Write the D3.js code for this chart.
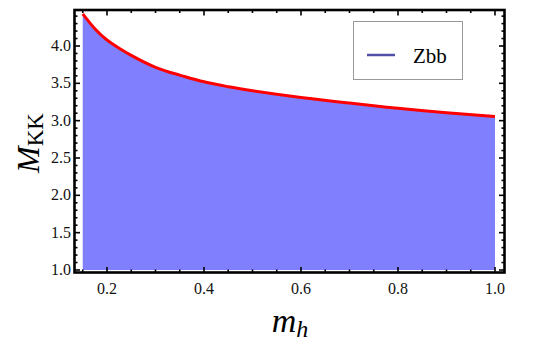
<!DOCTYPE html>
<html>
<head>
<meta charset="utf-8">
<script src="https://cdn.jsdelivr.net/npm/d3@7"></script>
<style>
  html, body { margin: 0; padding: 0; background: #fff; }
  svg { display: block; }
</style>
</head>
<body>
<svg id="chart" width="544" height="349"></svg>
<script>
// ---- data ----
const mh = [0.15, 0.175, 0.2, 0.225, 0.25, 0.3, 0.35, 0.4, 0.45, 0.5, 0.6, 0.7, 0.8, 0.9, 1.0];
const mkk = [4.43, 4.23, 4.08, 3.97, 3.875, 3.715, 3.61, 3.52, 3.455, 3.40, 3.31, 3.235, 3.165, 3.105, 3.055];
const fillBase = 1.0;
const seriesName = "Zbb";
const xMajorTicks = [0.2, 0.4, 0.6, 0.8, 1.0];
const xTickLabels = ["0.2", "0.4", "0.6", "0.8", "1.0"];
const yMajorTicks = [1.0, 1.5, 2.0, 2.5, 3.0, 3.5, 4.0];
const yTickLabels = ["1.0", "1.5", "2.0", "2.5", "3.0", "3.5", "4.0"];
const xMinorTicks = [0.15, 0.25, 0.3, 0.35, 0.45, 0.5, 0.55, 0.65, 0.7, 0.75, 0.85, 0.9, 0.95];
const yMinorTicks = [1.1, 1.2, 1.3, 1.4, 1.6, 1.7, 1.8, 1.9, 2.1, 2.2, 2.3, 2.4, 2.6, 2.7, 2.8, 2.9,
                     3.1, 3.2, 3.3, 3.4, 3.6, 3.7, 3.8, 3.9, 4.1, 4.2, 4.3, 4.4];

const SERIF = 'Tinos, "Liberation Serif", LiberationSerif, "Times New Roman", Times, "Nimbus Roman", "Nimbus Roman No9 L", FreeSerif, "Noto Serif", "DejaVu Serif", "Noto Serif CJK SC", serif';

// ---- layout ----
const L = 74.5, R = 504.5, T = 10, B = 272.5;
const x = d3.scaleLinear().domain([0.1330, 1.0196]).range([L, R]);
const y = d3.scaleLinear().domain([0.9665, 4.482]).range([B, T]);

const svg = d3.select("#chart");
const data = mh.map((m, i) => ({ m, v: mkk[i] }));

// fill area
const area = d3.area().x(d => x(d.m)).y0(y(fillBase)).y1(d => y(d.v)).curve(d3.curveNatural);
svg.append("path").datum(data).attr("d", area).attr("fill", "#8080ff");

// red boundary line
const line = d3.line().x(d => x(d.m)).y(d => y(d.v)).curve(d3.curveNatural);
svg.append("path").datum(data).attr("d", line)
  .attr("fill", "none").attr("stroke", "#ff0000").attr("stroke-width", 3);

// ticks (inward, all four sides)
const tg = svg.append("g").attr("stroke", "#000").attr("stroke-width", 1.6);
function xt(vals, len) {
  vals.forEach(v => {
    tg.append("line").attr("x1", x(v)).attr("x2", x(v)).attr("y1", B).attr("y2", B - len);
    tg.append("line").attr("x1", x(v)).attr("x2", x(v)).attr("y1", T).attr("y2", T + len);
  });
}
function yt(vals, len) {
  vals.forEach(v => {
    tg.append("line").attr("y1", y(v)).attr("y2", y(v)).attr("x1", L).attr("x2", L + len);
    tg.append("line").attr("y1", y(v)).attr("y2", y(v)).attr("x1", R).attr("x2", R - len);
  });
}
xt(xMajorTicks, 5.5); xt(xMinorTicks, 3);
yt(yMajorTicks, 5.5); yt(yMinorTicks, 3);

// frame
svg.append("rect").attr("x", L).attr("y", T).attr("width", R - L).attr("height", B - T)
  .attr("fill", "none").attr("stroke", "#000").attr("stroke-width", 2.6);

// tick labels
svg.append("g").selectAll("text").data(xMajorTicks).join("text")
  .style("font-family", SERIF)
  .attr("x", d => x(d)).attr("y", 294).attr("text-anchor", "middle")
  .attr("font-size", 16).attr("fill", "#111").text((d, i) => xTickLabels[i]);
svg.append("g").selectAll("text").data(yMajorTicks).join("text")
  .style("font-family", SERIF)
  .attr("x", 71).attr("y", d => y(d) + 5).attr("text-anchor", "end")
  .attr("font-size", 16).attr("fill", "#111").text((d, i) => yTickLabels[i]);

// axis titles
const xl = svg.append("text").style("font-family", SERIF)
  .attr("x", 290).attr("y", 332).attr("text-anchor", "middle").attr("fill", "#000");
xl.append("tspan").attr("font-size", 34).attr("font-style", "italic").text("m");
xl.append("tspan").attr("font-size", 24).attr("font-style", "italic").attr("dy", 5).text("h");

const yl = svg.append("text").style("font-family", SERIF)
  .attr("transform", "translate(39,143) rotate(-90)")
  .attr("text-anchor", "middle").attr("fill", "#000");
yl.append("tspan").attr("font-size", 32).attr("font-style", "italic").text("M");
yl.append("tspan").attr("font-size", 23).attr("dy", 4).text("KK");

// legend
const lg = svg.append("g");
lg.append("rect").attr("x", 353.5).attr("y", 21.5).attr("width", 109).attr("height", 58)
  .attr("fill", "#fff").attr("stroke", "#999").attr("stroke-width", 1);
lg.append("line").attr("x1", 367).attr("x2", 395).attr("y1", 55).attr("y2", 55)
  .attr("stroke", "#5050a8").attr("stroke-width", 2.5);
lg.append("text").style("font-family", SERIF)
  .attr("x", 413).attr("y", 62.5).attr("font-size", 21).attr("fill", "#000").text(seriesName);
</script>
</body>
</html>
